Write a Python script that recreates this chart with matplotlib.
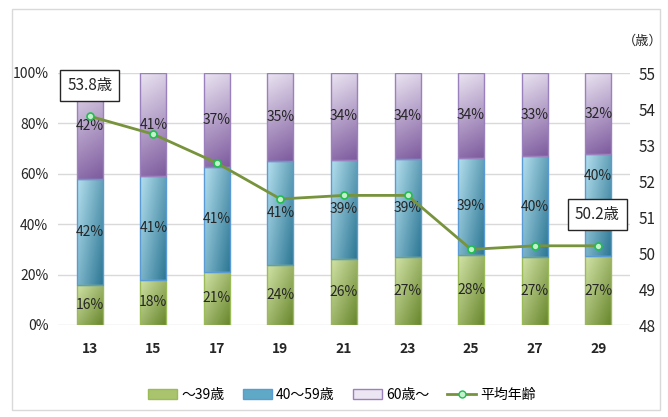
import numpy as np
import matplotlib
matplotlib.use("Agg")
import matplotlib.pyplot as plt
from matplotlib.colors import to_rgb
from matplotlib.patches import Rectangle, Patch
from matplotlib.lines import Line2D

plt.rcParams['font.family'] = ['Noto Sans CJK JP', 'DejaVu Sans']

years = ["13", "15", "17", "19", "21", "23", "25", "27", "29"]
under39 = [16, 18, 21, 24, 26, 27, 28, 27, 27]
age40_59 = [42, 41, 41, 41, 39, 39, 39, 40, 40]
over60 = [42, 41, 37, 35, 34, 34, 34, 33, 32]
avg_age = [53.8, 53.3, 52.5, 51.5, 51.6, 51.6, 50.1, 50.2, 50.2]
series_names = ["～39歳", "40～59歳", "60歳～", "平均年齢"]
pct_ticks = [0, 20, 40, 60, 80, 100]
age_ticks = [48, 49, 50, 51, 52, 53, 54, 55]

W, H = 668, 417
fig = plt.figure(figsize=(W / 100, H / 100), dpi=100)
fig.patch.set_facecolor("white")
fig.add_artist(Rectangle((12 / W, 1 - 410 / H), 648 / W, 401 / H,
                         transform=fig.transFigure, fill=False,
                         edgecolor="#d9d9d9", linewidth=1))

ax = fig.add_axes([58 / W, 1 - 325 / H, 572 / W, 252 / H])
ax2 = ax.twinx()

x = np.arange(len(years))
bw = 0.41

styles = [
    # light, dark, x-weight, y-weight, edge
    ("#d3e4a8", "#66852a", 0.5, 0.5, "#9bbb59"),
    ("#b5e0ef", "#2a7592", 0.6, 0.4, "#5b9bd5"),
    ("#ebe5f2", "#7d5a9e", 0.15, 0.85, "#9a80bc"),
]


def gradient_fill(axis, x0, x1, y0, y1, light, dark, wx, wy, edge):
    patch = Rectangle((x0, y0), x1 - x0, y1 - y0, facecolor="none",
                      edgecolor=edge, linewidth=1.0, zorder=3)
    axis.add_patch(patch)
    n = 64
    gx, gy = np.meshgrid(np.linspace(0, 1, n), np.linspace(0, 1, n))
    t = (wx * gx + wy * (1 - gy)) / (wx + wy)
    c1 = np.array(to_rgb(light))
    c2 = np.array(to_rgb(dark))
    img = c1[None, None, :] * (1 - t[..., None]) + c2[None, None, :] * t[..., None]
    im = axis.imshow(img, origin="lower", extent=[x0, x1, y0, y1],
                     aspect="auto", interpolation="bilinear", zorder=2)
    im.set_clip_path(patch)


# 100% stacked: each column is scaled so its parts fill the whole bar
groups = [under39, age40_59, over60]
totals = [sum(g[i] for g in groups) for i in range(len(years))]

# the last 40-59 label sits higher so the age callout stays clear
label_lift = {(1, len(years) - 1): 11.5}

label_kw = dict(ha="center", va="center", fontsize=10, color="#262626", zorder=4)
for i in range(len(years)):
    bottom = 0.0
    for k, (vals, st) in enumerate(zip(groups, styles)):
        h = vals[i] * 100.0 / totals[i]
        gradient_fill(ax, x[i] - bw / 2, x[i] + bw / 2, bottom, bottom + h, *st)
        ax.text(x[i], bottom + h / 2 + label_lift.get((k, i), 0),
                f"{vals[i]}%", **label_kw)
        bottom += h

ax.set_xlim(-0.5, len(years) - 0.5)
ax.set_ylim(0, 100)
ax.set_yticks(pct_ticks)
ax.set_yticklabels([f"{t}%" for t in pct_ticks])
ax.set_xticks(x)
ax.set_xticklabels(years, fontweight="bold")
ax.yaxis.grid(True, color="#d9d9d9", linewidth=1)
ax.set_axisbelow(True)
for a in (ax, ax2):
    for s in a.spines.values():
        s.set_visible(False)
ax.tick_params(axis="both", length=0, labelsize=10, colors="#262626")
ax.tick_params(axis="y", pad=7)
ax.tick_params(axis="x", pad=12)

ax2.plot(x, avg_age, color="#77933c", linewidth=2, marker="o", markersize=5,
         markerfacecolor="#c6efce", markeredgecolor="#1fbf4f",
         markeredgewidth=1.2, zorder=5)
ax2.set_ylim(48, 55)
ax2.set_yticks(age_ticks)
ax2.tick_params(axis="y", length=0, labelsize=11, colors="#262626", pad=6)
ax2.text((643 - 58) / 572, 1 + (73 - 41) / 252, "（歳）", transform=ax2.transAxes,
         ha="center", va="center", fontsize=9.5, color="#262626")

box = dict(boxstyle="square,pad=0.45", facecolor="white", edgecolor="#262626",
           linewidth=1)
for idx in (0, len(years) - 1):
    ax2.annotate(f"{avg_age[idx]}歳", (x[idx], avg_age[idx]),
                 xytext=(-1 if idx else 0, 31), textcoords="offset pixels",
                 ha="center", va="center", fontsize=11, color="#262626",
                 bbox=box, zorder=6)

handles = [
    Patch(facecolor="#a9c46c", edgecolor="#9bbb59"),
    Patch(facecolor="#5fa9c6", edgecolor="#5b9bd5"),
    Patch(facecolor="#ece6f3", edgecolor="#9a80bc"),
    Line2D([], [], color="#77933c", linewidth=2, marker="o", markersize=5,
           markerfacecolor="#c6efce", markeredgecolor="#1fbf4f"),
]
fig.legend(handles, series_names, loc="center", ncol=4, frameon=False,
           bbox_to_anchor=(342 / W, 1 - 395 / H), fontsize=10,
           handlelength=2.1, handleheight=0.7, columnspacing=1.3,
           handletextpad=0.3)

fig.savefig("out.png", dpi=100)
